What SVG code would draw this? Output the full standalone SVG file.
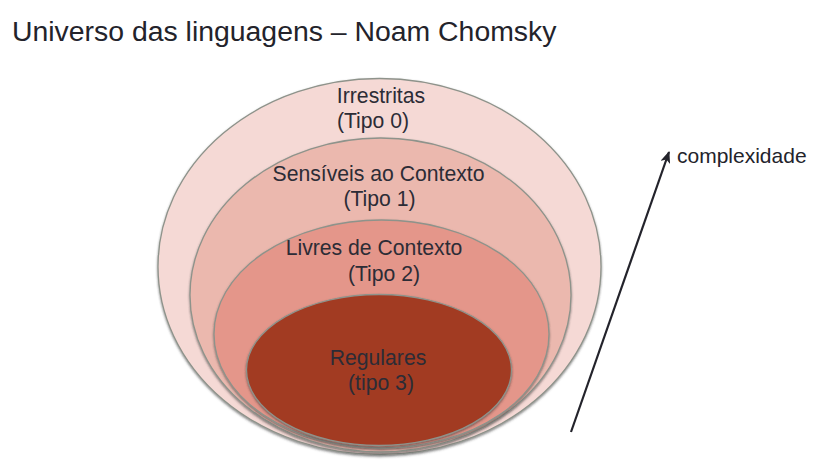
<svg xmlns="http://www.w3.org/2000/svg" width="817" height="465" viewBox="0 0 817 465">
<defs>
<style>
.lbl{font-family:"Liberation Sans",Arial,sans-serif;font-size:21.2px;fill:#2c2c36;text-anchor:middle}
.ell{stroke:#8e938b;stroke-width:1.3}
</style>
<filter id="sh" x="-10%" y="-10%" width="120%" height="125%">
<feDropShadow dx="0" dy="1.5" stdDeviation="0.8" flood-color="#333" flood-opacity="0.6"/>
</filter>
<marker id="ah" viewBox="0 0 12 10" refX="11" refY="5" markerWidth="12" markerHeight="10" markerUnits="userSpaceOnUse" orient="auto">
<path d="M0,0 L12,5 L0,10 L3,5 z" fill="#23232b"/>
</marker>
</defs>
<rect width="817" height="465" fill="#fff"/>
<text x="12" y="41" font-family="'Liberation Sans',Arial,sans-serif" font-size="28.4" fill="#23232b">Universo das linguagens – Noam Chomsky</text>
<g id="tipo0">
<ellipse class="ell" cx="379.5" cy="266.5" rx="221.5" ry="188" fill="#f5d9d5" filter="url(#sh)"/>
<text class="lbl" x="381" y="103">Irrestritas</text>
<text class="lbl" x="373" y="128">(Tipo 0)</text>
</g>
<g id="tipo1">
<ellipse class="ell" cx="380.5" cy="295" rx="190.5" ry="157" fill="#ebb8ae" filter="url(#sh)"/>
<text class="lbl" x="378.5" y="181">Sensíveis ao Contexto</text>
<text class="lbl" x="379.5" y="206">(Tipo 1)</text>
</g>
<g id="tipo2">
<ellipse class="ell" cx="381.5" cy="334" rx="167.5" ry="114" fill="#e4968a" filter="url(#sh)"/>
<text class="lbl" x="374" y="255">Livres de Contexto</text>
<text class="lbl" x="384" y="281">(Tipo 2)</text>
</g>
<g id="tipo3">
<ellipse class="ell" cx="379" cy="370" rx="132.5" ry="75.5" fill="#a23a24" filter="url(#sh)"/>
<text class="lbl" x="378" y="365">Regulares</text>
<text class="lbl" x="381" y="390">(tipo 3)</text>
</g>
<g id="connectors">
<line x1="571" y1="432" x2="669" y2="152" stroke="#23232b" stroke-width="2.2" marker-end="url(#ah)"/>
</g>
<g id="complexidade">
<text x="677" y="163" font-family="'Liberation Sans',Arial,sans-serif" font-size="21" fill="#23232b">complexidade</text>
</g>
</svg>
